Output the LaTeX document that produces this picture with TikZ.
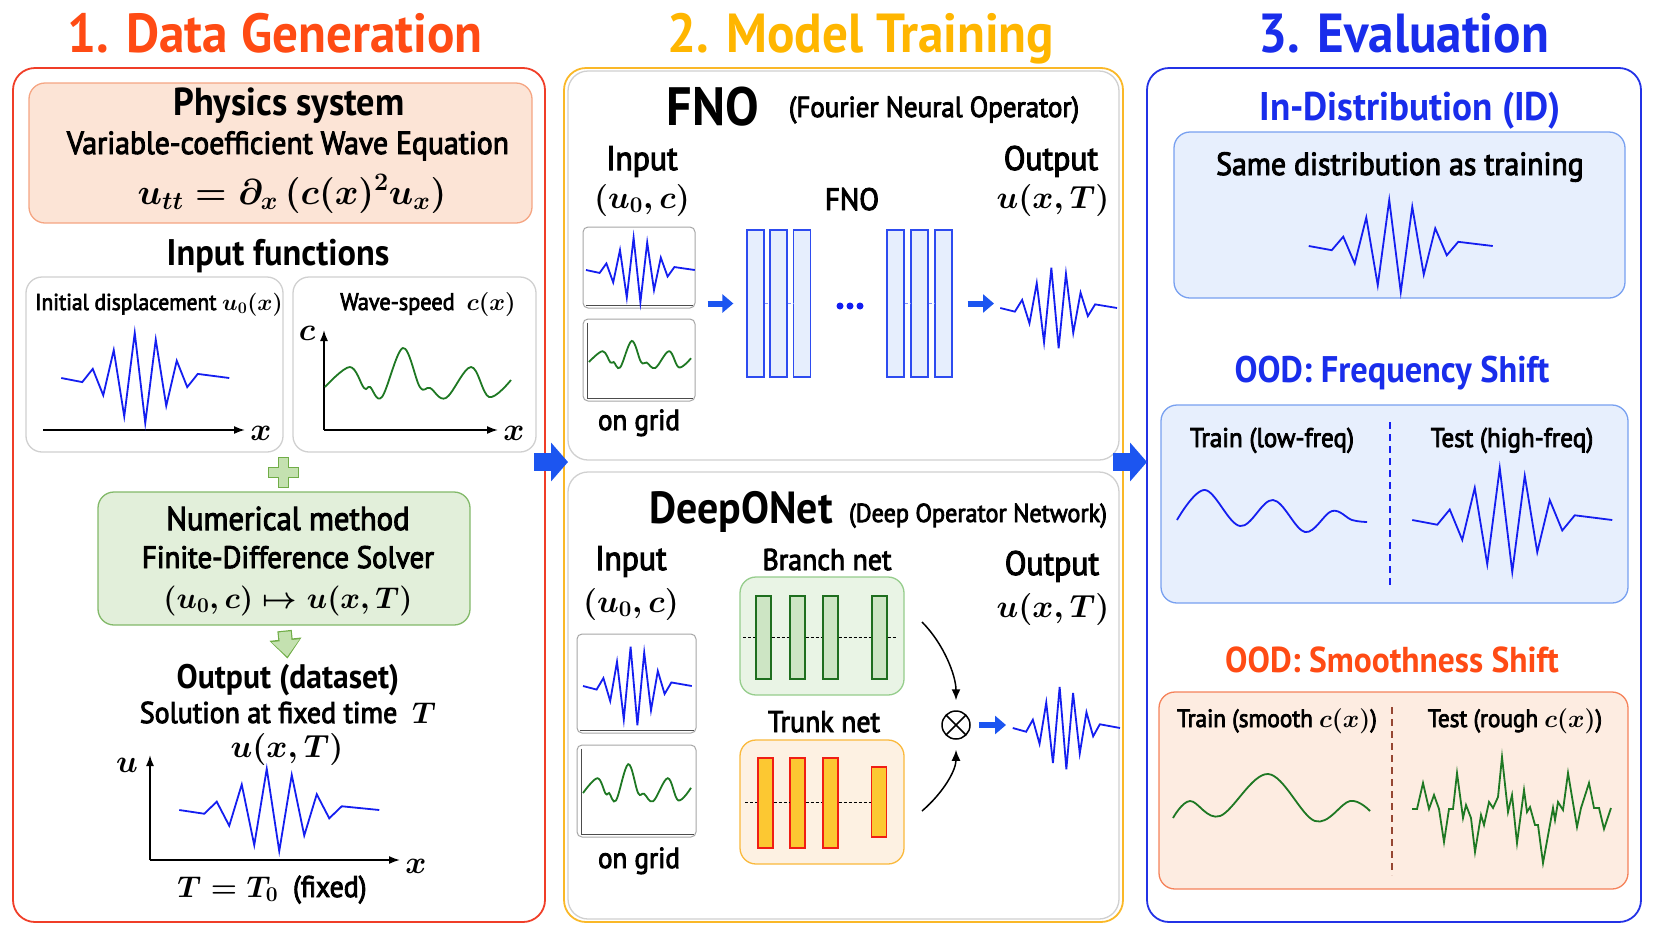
\documentclass[tikz,border=0pt]{standalone}
\usepackage{fix-cm}
\usepackage[no-math]{fontspec}
\setmainfont{PT Sans}[FakeStretch=0.93]
\newfontfamily\medium{PT Sans}[FakeStretch=0.93,FakeBold=3]
\usetikzlibrary{arrows.meta,fit,positioning}

\definecolor{genred}{RGB}{255,75,20}
\definecolor{panelred}{RGB}{240,62,40}
\definecolor{trainamber}{RGB}{255,182,0}
\definecolor{panelamber}{RGB}{250,184,40}
\definecolor{evalblue}{RGB}{25,45,235}
\definecolor{panelblue}{RGB}{35,50,230}
\definecolor{waveblue}{RGB}{20,30,240}
\definecolor{wavegreen}{RGB}{30,120,35}
\definecolor{arrowblue}{RGB}{28,85,240}
\definecolor{physfill}{RGB}{252,228,214}
\definecolor{physdraw}{RGB}{245,165,130}
\definecolor{solvefill}{RGB}{226,239,218}
\definecolor{solvedraw}{RGB}{130,185,105}
\definecolor{plusfill}{RGB}{196,225,176}
\definecolor{plusdraw}{RGB}{112,173,71}
\definecolor{boxgray}{RGB}{208,208,208}
\definecolor{idfill}{RGB}{231,239,253}
\definecolor{iddraw}{RGB}{120,160,240}
\definecolor{smfill}{RGB}{253,236,225}
\definecolor{smdraw}{RGB}{245,130,90}
\definecolor{branchfill}{RGB}{233,244,229}
\definecolor{branchdraw}{RGB}{150,205,140}
\definecolor{branchbarfill}{RGB}{205,229,196}
\definecolor{branchbardraw}{RGB}{30,110,30}
\definecolor{trunkfill}{RGB}{253,241,226}
\definecolor{trunkdraw}{RGB}{250,185,60}
\definecolor{trunkbarfill}{RGB}{252,200,50}
\definecolor{trunkbardraw}{RGB}{240,30,20}
\definecolor{fnobarfill}{RGB}{230,238,253}
\definecolor{fnobardraw}{RGB}{45,75,240}
\definecolor{divbrown}{RGB}{150,70,50}

\newcommand{\fsz}[1]{\fontsize{#1}{#1}\selectfont\boldmath}
\newcommand{\wavelet}[4][]{%
  \begin{scope}[shift={(#2)},xscale=#3,yscale=#4]
    \draw[wave,#1] (-7.5,0) -- plot[domain=-5.5:5.5,samples=12] (\x,{exp(-(\x)*(\x)/12.5)*sin(180*(\x))}) -- (8.5,0);
  \end{scope}}
\newcommand{\speedcurve}[4][]{%
  \begin{scope}[shift={(#2)},xscale=#3,yscale=#4]
    \draw[cwave,#1] plot[smooth,tension=0.6] coordinates {(0,0) (13.4,-20) (21,1) (24.2,0) (30.6,10) (41.9,-39) (51,0) (56.5,1) (65,11) (78.5,-20) (88.2,10) (100,-7)};
  \end{scope}}

\begin{document}
\begin{tikzpicture}[x=1pt,y=-1pt,
title/.style={anchor=base, inner sep=0pt, font=\bfseries\fsz{55}},
head/.style={anchor=base, inner sep=0pt, font=\bfseries\fsz{37}},
sub/.style={anchor=base, inner sep=0pt, font=\medium\fsz{31}},
lab/.style={anchor=base, inner sep=0pt, font=\medium\fsz{26}},
mth/.style={anchor=base, inner sep=0pt, font=\fsz{32}},
panel/.style={line width=1.8, rounded corners=22, inner sep=0pt, draw},
softbox/.style={draw, line width=1.3, rounded corners=16, inner sep=0pt},
graybox/.style={softbox, draw=boxgray, fill=white},
plotbox/.style={draw=gray!70, line width=1, rounded corners=5, inner sep=0pt, fill=white},
wave/.style={draw=waveblue, line width=1.8},
cwave/.style={draw=wavegreen, line width=1.8},
axisline/.style={line width=1.7, -{Latex[length=11pt,width=8pt]}},
bigarrow/.style={draw=arrowblue, line width=18, -{Triangle[length=17pt,width=38pt]}},
smallarrow/.style={draw=arrowblue, line width=6, -{Triangle[length=11pt,width=18pt]}},
greenedge/.style={draw=plusdraw, line width=14.4, -{Triangle[length=19.5pt,width=31pt]}},
greenarrow/.style={draw=plusfill, line width=12, -{Triangle[length=16pt,width=27pt]}},
curvearrow/.style={line width=1.5, -{Latex[length=11pt,width=9pt]}},
plusmark/.style={fill=plusfill, draw=plusdraw, line width=1},
fnobar/.style={draw=fnobardraw, fill=fnobarfill, line width=1.3, minimum width=17, minimum height=147, inner sep=0pt},
branchbar/.style={draw=branchbardraw, fill=branchbarfill, line width=1.3, minimum width=15, minimum height=83, inner sep=0pt},
trunkbar/.style={draw=trunkbardraw, fill=trunkbarfill, line width=1.3, minimum width=15, minimum height=90, inner sep=0pt},
netlink/.style={densely dashed, line width=1},
otimes/.style={circle, draw, line width=1.5, minimum size=28, inner sep=0pt,
  path picture={\draw[line width=1.5] (path picture bounding box.north west) -- (path picture bounding box.south east)
  (path picture bounding box.north east) -- (path picture bounding box.south west);}}]
\path[use as bounding box] (0,0) rectangle (1654,951);

\node[panel, draw=panelred, fit={(13,68) (545,922)}] (gen) {};
\node[panel, draw=panelamber, fit={(564,68) (1123,922)}] (train) {};
\node[panel, draw=panelblue, fit={(1147,68) (1641,922)}] (eval) {};
\node[title, text=genred] (genT) at (275,52) {1. Data Generation};
\node[title, text=trainamber] (trainT) at (861,52) {2. Model Training};
\node[title, text=evalblue] (evalT) at (1404,52) {3. Evaluation};

\node[softbox, draw=physdraw, fill=physfill, fit={(29,83) (532,223)}] (phys) {};
\node[head, font=\bfseries\fsz{39}] (physT) at (289,115) {Physics system};
\node[sub, font=\medium\fsz{32}] (waveT) at (288,154) {Variable-coefficient Wave Equation};
\node[mth, font=\fsz{36}] (eqT) at (292,204) {$u_{tt} = \partial_x\,(c(x)^2u_x)$};
\node[head] (inT) at (278,265) {Input functions};
\node[graybox, fit={(26,277) (283,452)}] (u0box) {};
\node[graybox, fit={(293,277) (536,452)}] (cbox) {};
\node[lab, font=\medium\fsz{23}] (u0T) at (159,310) {Initial displacement $u_0(x)$};
\node[lab, font=\medium\fsz{24}] (cT) at (428,310) {Wave-speed \ $c(x)$};
\coordinate (o1) at (43,430); \coordinate (x1) at (245,430);
\draw[axisline] (o1) -- (x1);
\node[mth] (x1T) at (261,440) {$x$};
\wavelet{140,378}{10.5}{46}
\coordinate (o2) at (324,430); \coordinate (x2) at (498,430); \coordinate (y2) at (324,330);
\draw[axisline] (o2) -- (x2);
\draw[axisline] (o2) -- (y2);
\node[mth] (x2T) at (514,440) {$x$};
\node[mth] (c2T) at (307,340) {$c$};
\speedcurve{325,387}{1.86}{1}

\draw[plusmark] (278,457) -- ++(10,0) -- ++(0,10) -- ++(10,0) -- ++(0,10) -- ++(-10,0) -- ++(0,10)
  -- ++(-10,0) -- ++(0,-10) -- ++(-10,0) -- ++(0,-10) -- ++(10,0) -- cycle;
\node[softbox, draw=solvedraw, fill=solvefill, fit={(98,492) (470,625)}] (solver) {};
\node[sub, font=\medium\fsz{33}] (numT) at (288,530) {Numerical method};
\node[sub] (fdT) at (288,568) {Finite-Difference Solver};
\node[mth, font=\fsz{30}] (mapT) at (288,608) {$(u_0,c)\mapsto u(x,T)$};
\node[head, font=\bfseries\fsz{34}] (outT) at (288,688) {Output (dataset)};
\draw[greenedge, shorten <=5, shorten >=5] (solver.south) -- (outT.north);
\draw[greenarrow, shorten <=6.2, shorten >=7] (solver.south) -- (outT.north);
\node[sub, font=\medium\fsz{30}] (solT) at (288,723) {Solution at fixed time \ $T$};
\node[mth] (uxtT) at (287,757) {$u(x,T)$};
\coordinate (o3) at (150,860); \coordinate (x3) at (400,860); \coordinate (y3) at (150,755);
\draw[axisline] (o3) -- (x3);
\draw[axisline] (o3) -- (y3);
\node[mth] (u3T) at (127,772) {$u$};
\node[mth] (x3T) at (416,873) {$x$};
\wavelet{273,810}{12.5}{42}
\node[mth, font=\medium\fsz{30}] (fixT) at (272,897) {$T = T_0$ \ (fixed)};

\node[graybox, rounded corners=20, fit={(568,71) (1119,460)}] (fnobox) {};
\node[graybox, rounded corners=20, fit={(568,472) (1119,919)}] (donbox) {};
\node[anchor=base, inner sep=0pt, font=\bfseries\fsz{54}] (fnoT) at (713,125) {FNO};
\node[lab, font=\medium\fsz{29}] (fnoFullT) at (934,117) {(Fourier Neural Operator)};
\node[sub, font=\medium\fsz{34}] (finT) at (642,170) {Input};
\node[mth] (fincT) at (642,208) {$(u_0,c)$};
\node[sub, font=\medium\fsz{31}] (fnoMidT) at (852,210) {FNO};
\node[sub, font=\medium\fsz{34}] (foutT) at (1051,170) {Output};
\node[mth] (foutuT) at (1053,208) {$u(x,T)$};
\node[plotbox, fit={(583,227) (695,308)}] (fin1) {};
\node[plotbox, fit={(583,319) (695,401)}] (fin2) {};
\draw[line width=1, black!70] ([xshift=3,yshift=3]fin1.south west) -- ([xshift=-3,yshift=3]fin1.south east);
\draw[line width=1, black!70] ([xshift=5,yshift=-4]fin2.north west) -- ([xshift=5,yshift=3]fin2.south west) -- ([xshift=-3,yshift=3]fin2.south east);
\node[sub, font=\medium\fsz{29}] (fgridT) at (639,430) {on grid};
\wavelet{637,270}{6.8}{33}
\speedcurve{589,362}{1.02}{0.54}
\foreach \bx [count=\i] in {755.5,778.5,802} \node[fnobar] (fa\i) at (\bx,303.5) {};
\foreach \bx [count=\i] in {895.5,919.5,943.5} \node[fnobar] (fb\i) at (\bx,303.5) {};
\draw[netlink, fnobardraw!60] (fa1.east) -- (fa2.west) (fa2.east) -- (fa3.west) (fb1.east) -- (fb2.west) (fb2.east) -- (fb3.west);
\foreach \dx in {-10,0,10} \fill[waveblue] ({850+\dx},306) circle (3.5);
\draw[smallarrow, shorten <=12, shorten >=13] (fin1.east |- fa1.west) -- (fa1.west);
\wavelet{1055,308}{7.3}{41}
\coordinate (fout) at (1002,303.5);
\draw[smallarrow, shorten <=15, shorten >=8] (fb3.east) -- (fout);

\node[anchor=base, inner sep=0pt, font=\bfseries\fsz{45}] (donT) at (741,523) {DeepONet};
\node[lab, font=\medium\fsz{26}] (donFullT) at (978,522) {(Deep Operator Network)};
\node[sub, font=\medium\fsz{34}] (dinT) at (631,570) {Input};
\node[mth] (dincT) at (631,612) {$(u_0,c)$};
\node[plotbox, fit={(577,634) (696,733)}] (din1) {};
\node[plotbox, fit={(577,745) (696,837)}] (din2) {};
\draw[line width=1, black!70] ([xshift=3,yshift=3]din1.south west) -- ([xshift=-3,yshift=3]din1.south east);
\draw[line width=1, black!70] ([xshift=5,yshift=-4]din2.north west) -- ([xshift=5,yshift=3]din2.south west) -- ([xshift=-3,yshift=3]din2.south east);
\node[sub, font=\medium\fsz{29}] (dgridT) at (639,868) {on grid};
\wavelet{634,686}{6.8}{40}
\speedcurve{583,793}{1.08}{0.74}
\node[sub, font=\medium\fsz{30}] (branchT) at (827,570) {Branch net};
\node[softbox, draw=branchdraw, fill=branchfill, fit={(740,577) (904,695)}] (branch) {};
\foreach \bx [count=\i] in {763.5,797.5,830.5,879.5} \node[branchbar] (b\i) at (\bx,637.5) {};
\draw[netlink] ([xshift=-12]b1.west) -- (b1.west) (b1.east) -- (b2.west) (b2.east) -- (b3.west) (b3.east) -- (b4.west) (b4.east) -- ([xshift=8]b4.east);
\node[sub, font=\medium\fsz{30}] (trunkT) at (824,732) {Trunk net};
\node[softbox, draw=trunkdraw, fill=trunkfill, fit={(740,740) (904,864)}] (trunk) {};
\foreach \bx [count=\i] in {765.5,797.5,830.5} \node[trunkbar] (k\i) at (\bx,803) {};
\node[trunkbar, minimum height=70] (k4) at (879,802) {};
\draw[netlink] ([xshift=-12]k1.west |- k4.west) -- (k1.west |- k4.west) (k1.east |- k4.west) -- (k2.west |- k4.west)
  (k2.east |- k4.west) -- (k3.west |- k4.west) (k3.east |- k4.west) -- (k4.west);
\node[otimes] (prod) at (956,725) {};
\coordinate (bout) at (922,622); \coordinate (tout) at (922,811);
\draw[curvearrow, shorten >=10] (bout) .. controls (944,644) and (956,676) .. (prod.north);
\draw[curvearrow, shorten >=10] (tout) .. controls (944,792) and (956,770) .. (prod.south);
\node[sub, font=\medium\fsz{34}] (doutT) at (1052,575) {Output};
\node[mth] (doutuT) at (1053,617) {$u(x,T)$};
\wavelet{1063,728}{6.7}{42}
\coordinate (dout) at (1011,725);
\draw[smallarrow, shorten <=8, shorten >=5] (prod.east) -- (dout);

\node[softbox, draw=iddraw, fill=idfill, fit={(1174,132) (1625,298)}] (idbox) {};
\node[head, text=evalblue, font=\bfseries\fsz{40}] (idT) at (1410,120) {In-Distribution (ID)};
\node[sub, font=\medium\fsz{32}] (sameT) at (1400,175) {Same distribution as training};
\wavelet{1395,246}{11.5}{47}
\node[softbox, draw=iddraw, fill=idfill, fit={(1161,405) (1628,603)}] (freqbox) {};
\node[head, text=evalblue, font=\bfseries\fsz{37}] (freqT) at (1392,382) {OOD: Frequency Shift};
\node[lab, font=\medium\fsz{27}] (lowT) at (1272,447) {Train (low-freq)};
\node[lab, font=\medium\fsz{27}] (highT) at (1512,447) {Test (high-freq)};
\draw[waveblue, line width=1.6, dash pattern=on 7pt off 5pt] (1390,422) -- (1390,585);
\draw[wave] plot[smooth, tension=0.6] coordinates {(1177,520) (1205,490) (1240,526) (1273,500) (1305,532) (1332,511) (1352,520) (1367,522)};
\wavelet{1506,520}{12.5}{53}
\node[softbox, draw=smdraw, fill=smfill, fit={(1159,692) (1628,889)}] (smbox) {};
\node[head, text=genred, font=\bfseries\fsz{36}] (smT) at (1392,672) {OOD: Smoothness Shift};
\node[lab, font=\medium\fsz{25}] (smtrT) at (1277,727) {Train (smooth $c(x)$)};
\node[lab, font=\medium\fsz{25}] (roughT) at (1515,727) {Test (rough $c(x)$)};
\draw[divbrown, line width=1.6, dash pattern=on 7pt off 5pt] (1392,707) -- (1392,875);
\draw[cwave] plot[smooth, tension=0.6] coordinates {(1173,818) (1190,801) (1220,816) (1268,774) (1315,821) (1350,801) (1370,811)};
\draw[cwave] plot coordinates {(1412,809) (1417,809) (1423,783) (1429,809) (1434,795) (1439,809) (1444,842) (1449,809) (1453,809)
  (1457,773) (1463,818) (1466,805) (1471,818) (1475,852) (1481,815) (1484,825) (1489,802) (1493,808) (1498,797) (1502,757)
  (1508,812) (1512,795) (1517,843) (1524,790) (1527,812) (1530,807) (1535,825) (1538,825) (1543,863) (1553,808) (1555,820)
  (1558,802) (1563,810) (1568,773) (1577,827) (1581,808) (1589,783) (1594,808) (1599,808) (1604,829) (1611,808)};

\coordinate (g1) at (534,462); \coordinate (g2) at (568,462);
\coordinate (t1) at (1113,462); \coordinate (t2) at (1147,462);
\draw[bigarrow] (g1) -- (g2);
\draw[bigarrow] (t1) -- (t2);
%\draw[bigarrow] (gen.east) -- (train.west);
\end{tikzpicture}
\end{document}
